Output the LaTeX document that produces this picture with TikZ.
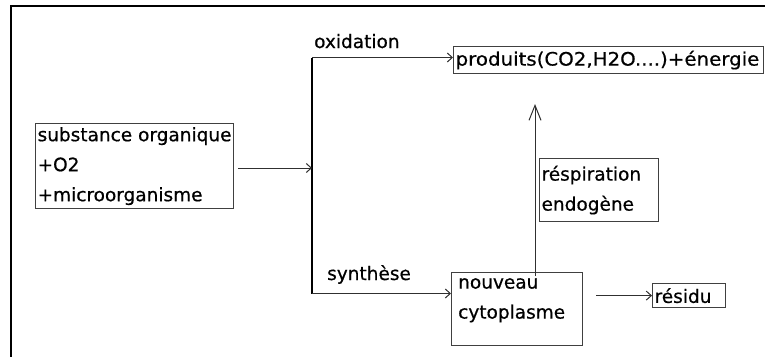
\documentclass[tikz,border=0pt]{standalone}
\usepackage{fontspec}
\setmainfont{DejaVu Sans}[FakeBold=0.6]
\newfontfamily\widefont{DejaVu Sans}[FakeBold=0.6,FakeStretch=1.07]
\usetikzlibrary{arrows.meta}
\definecolor{boxgray}{HTML}{404040}
\definecolor{linegray}{HTML}{303030}
\begin{document}
\begin{tikzpicture}[x=1pt,y=-1pt,
  txt/.style={font=\fontsize{18.5}{30}\selectfont, text=black},
  box/.style={txt, draw=boxgray, line width=1.2pt, inner xsep=2pt, inner ysep=0pt,
    align=left, anchor=north west},
  lbl/.style={txt, inner sep=0pt, anchor=base west},
  flow/.style={draw=linegray, line width=1pt,
    -{Straight Barb[length=5pt,width=9pt,line width=1pt]}},
  rail/.style={draw=black, line width=1.2pt},
  frame/.style={draw=black, line width=2pt}]
  \useasboundingbox (0,0) rectangle (765,356);

  % partial frame along the top and left edges
  \draw[frame] (11,357) -- (11,5.5) -- (766,5.5);

  % boxes
  \node[box, minimum width=197pt, minimum height=85pt] (subst) at (35,123)
    {substance organique\\+O2\\+microorganisme};
  \node[box, text width=306pt, minimum height=27pt] (prod) at (453,46)
    {\widefont produits(CO2,H2O....)+énergie};
  \node[box, text width=115pt, minimum height=63pt] (resp) at (539,158)
    {réspiration\\endogène};
  \node[box, minimum width=131pt, minimum height=73pt] (nouv) at (451,272) {};
  \node[txt, inner sep=0pt, anchor=north west, align=left] (nouvtxt) at (458,278)
    {nouveau\\cytoplasme};
  \node[box, text width=69pt, minimum height=24pt] (resid) at (652,283) {résidu};

  % branch labels
  \node[lbl] (lox) at (314,48) {oxidation};
  \node[lbl] (lsy) at (327,280) {synthèse};

  % junction points on the vertical rail
  \coordinate (ox) at (312,57.5);
  \coordinate (jn) at (312,168);
  \coordinate (sy) at (312,293.5);
  \coordinate (up) at (535,104);

  % connectors
  \draw[rail] (ox) -- (sy);
  \draw[flow] ([xshift=4pt]subst.east |- jn) -- (jn);
  \draw[flow] (ox) -- (ox -| prod.west);
  \draw[flow] (sy) -- (sy -| nouv.west);
  \draw[draw=linegray, line width=1pt,
    -{Straight Barb[length=15pt,width=12pt,line width=1pt]}]
    ([yshift=-4pt]up |- nouv.north) -- (up);
  \draw[flow] ([xshift=13pt]nouv.east |- resid.west) -- (resid.west);
\end{tikzpicture}
\end{document}
